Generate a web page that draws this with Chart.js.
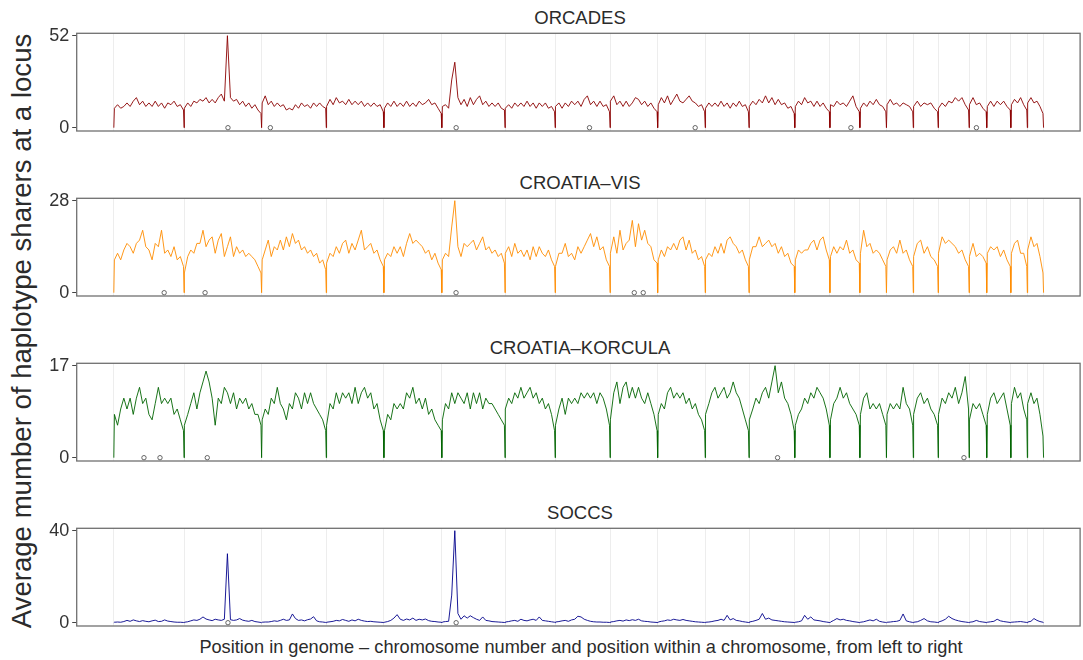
<!DOCTYPE html>
<html>
<head>
<meta charset="utf-8">
<script src="https://cdn.jsdelivr.net/npm/chart.js@4.4.1/dist/chart.umd.min.js"></script>
<style>
  body { margin: 0; background: #fff; width: 1083px; height: 660px; position: relative; overflow: hidden;
         font-family: 'Liberation Sans', Arial, sans-serif; color: #2b2b2b; }
  canvas { position: absolute; left: 0; }
  .strip { position: absolute; left: 77px; width: 1006px; text-align: center; font-size: 18.5px; line-height: 20px; }
  #ytitle { position: absolute; left: 22px; top: 331px; transform: translate(-50%, -50%) rotate(-90deg);
            font-size: 27.6px; white-space: nowrap; }
  #xtitle { position: absolute; left: 581px; top: 647px; transform: translate(-50%, -50%);
            font-size: 18.2px; white-space: nowrap; }
</style>
</head>
<body>
<div id="ytitle">Average mumber of haplotype sharers at a locus</div>
<div id="xtitle">Position in genome – chromosome number and position within a chromosome, from left to right</div>
<script>
// chromosome boundaries along the genome axis (22 chromosomes)
const chromEdges = [0, 70.6, 148.5, 213.5, 271.4, 329.6, 393.1, 443.5, 498.7, 546.5, 594.3, 638.3,
  684.3, 719.6, 749.7, 776.4, 803.4, 828.4, 859.5, 877.2, 901.4, 918, 934.3]

const panelNames = ['ORCADES', 'CROATIA–VIS', 'CROATIA–KORCULA', 'SOCCS']
const panelMax = [52, 28, 17, 40]

// average sharers, sampled along each chromosome
const orcades = [
  [11,13,11,12,14,12,15,17,13,15,12,14,12,15,12,14,11,14,13,15,12,13,10],
  [11,14,12,15,14,16,15,17,14,16,14,17,19,15,52,17,15,16,13,15,12,14,11,13,10,8],
  [14,18,13,15,12,14,12,13,10,11,10,13,11,14,12,13,11,14,12,14,12,11],
  [12,16,13,17,14,15,13,16,13,15,13,15,12,14,12,14,12,13,9],
  [11,14,12,15,12,14,12,15,12,14,12,15,13,14,16,13,14,11,8],
  [12,13,11,27,37,17,13,16,12,17,13,16,18,13,15,12,14,12,14,11,10],
  [11,13,11,14,12,14,12,15,12,14,11,14,12,14,11,12,9],
  [12,14,11,14,12,15,13,15,12,16,18,13,15,12,15,12,13,9],
  [15,18,13,15,12,15,12,14,17,16,13,15,12,14,11,9],
  [13,17,14,18,13,16,19,15,14,16,18,15,14,12,13,9],
  [11,14,12,14,12,15,12,14,11,14,12,15,12,13,9],
  [12,15,13,16,14,18,14,17,13,16,13,14,11,12,8],
  [12,15,13,17,14,15,12,15,12,14,11,9],
  [13,12,15,13,14,12,15,18,12,9],
  [11,14,12,15,13,16,13,12,9],
  [13,16,13,14,12,14,13,12,9],
  [12,15,12,14,13,14,11,9],
  [11,14,12,15,14,17,15,17,13,10],
  [13,17,13,14,11,9],
  [12,15,12,15,13,15,12,10],
  [13,16,14,17,13,10],
  [14,17,14,15,12,8]
]

const croatiaVis = [
  [10,12,10,13,15,14,12,15,16,19,14,13,10,15,14,19,12,13,11,14,10,11,8],
  [6,11,13,12,15,15,19,14,16,17,12,16,18,11,14,17,11,14,12,13,11,12,11,10,8,6],
  [10,13,16,11,14,13,16,13,17,14,18,15,16,13,14,12,13,11,12,9,10,7],
  [9,12,11,14,12,15,16,12,15,13,16,19,13,14,15,12,13,10,8],
  [10,12,11,14,12,14,11,15,18,15,16,15,14,12,13,10,12,9,7],
  [10,12,11,20,28,14,11,15,14,15,16,13,15,17,13,14,12,13,11,12,9],
  [12,14,11,15,12,13,11,13,10,14,11,14,12,11,13,10,8],
  [8,12,12,15,11,12,10,14,12,14,16,18,14,17,13,14,10,8],
  [12,17,12,19,13,15,16,22,14,21,16,19,15,14,10,9],
  [10,13,11,14,13,15,13,16,17,13,16,12,13,10,11,8],
  [10,12,11,14,12,15,12,16,17,15,14,12,13,10,8],
  [10,14,14,17,14,15,16,14,15,12,14,11,12,9,8],
  [10,13,12,13,13,15,16,13,16,17,13,10],
  [11,14,12,14,13,16,12,13,10,9],
  [12,19,14,15,12,13,12,10,8],
  [10,13,14,12,16,12,13,10,8],
  [11,15,16,12,14,11,10,8],
  [12,17,15,16,15,14,12,13,10,8],
  [11,15,11,12,11,9],
  [12,14,13,14,11,13,10,8],
  [12,15,16,12,12,8],
  [13,17,14,15,11,6]
]

const croatiaKorcula = [
  [8,6,9,11,9,11,8,11,13,10,11,8,7,10,13,10,11,10,11,8,9,7,5],
  [6,8,10,12,9,12,14,16,14,11,6,11,10,13,12,10,12,9,11,10,11,9,10,8,8,6],
  [7,9,8,11,10,13,10,9,7,10,9,12,11,9,12,10,12,10,9,8,7,5],
  [6,10,9,12,10,12,11,12,10,13,10,12,13,11,12,9,10,7,5],
  [5,8,7,10,9,10,9,12,11,13,10,11,9,11,8,9,7,6,5],
  [7,10,9,12,10,12,11,10,12,9,12,10,12,9,11,10,10,9,8,7,6],
  [9,11,10,12,11,13,11,12,13,11,12,10,11,9,10,8,5],
  [6,9,11,8,11,10,11,10,12,11,12,11,12,10,12,11,9,6],
  [7,12,14,10,13,14,11,13,11,13,11,10,12,10,8,5],
  [8,10,9,12,13,11,12,11,12,10,11,9,10,8,7,5],
  [8,10,12,13,11,12,13,11,12,14,12,11,9,7,5],
  [7,9,11,10,12,13,11,14,17,12,14,11,10,8,5],
  [6,8,9,11,10,12,11,13,12,11,9,6],
  [7,10,11,13,11,12,10,9,8,6],
  [8,11,12,9,10,9,10,8,6],
  [8,10,9,10,9,13,10,9,6],
  [8,11,12,10,11,9,8,6],
  [8,11,10,12,11,13,10,12,15,9],
  [7,10,9,10,8,6],
  [8,11,12,10,11,12,9,6],
  [10,13,11,12,9,7],
  [10,12,10,11,8,4]
]

const soccs = [
  [0.2,0.3,0.2,0.5,1,0.6,1.2,0.8,0.5,0.9,0.6,0.4,0.8,1.1,0.5,0.6,1.2,0.7,0.5,0.3,0.2,0.2,0.1],
  [0.2,0.4,0.8,1.2,1,1.5,2.5,1.6,1.2,0.9,1.5,1.2,1,1.5,30,1.3,1,1.2,1.8,1.1,0.8,0.6,1,0.5,0.3,0.1],
  [0.2,0.3,0.3,0.5,0.8,0.6,1,1.5,1,1.2,3.8,1.8,1,1.2,0.8,1.3,1.6,2.6,0.8,0.4,0.3,0.1],
  [0.2,0.4,0.6,1,0.8,1.4,1,0.6,1.2,0.8,1.5,1,0.7,0.5,0.6,0.4,0.3,0.2,0.1],
  [0.2,0.5,1,2,3.5,1.5,1,1.6,1.2,2,1,1.5,1.2,1.6,0.9,0.6,0.5,0.3,0.2],
  [0.3,0.5,0.6,12,40,4,1.5,3,2,3,2.2,1.5,1,2.5,1,0.8,0.5,0.4,0.3,0.2,0.1],
  [0.3,0.5,0.8,1,0.6,1.5,1,0.8,1.2,1.5,1,2.5,1,0.8,0.6,0.4,0.2],
  [0.3,0.5,0.8,1,0.6,1.2,1.5,2.8,2.5,1.5,1,0.6,0.4,0.3,0.3,0.2,0.2,0.1],
  [0.3,0.5,0.8,1,0.7,1.2,0.9,1.3,1,1.5,0.8,0.6,0.5,0.3,0.2,0.1],
  [0.3,0.6,0.8,1.2,1,1.5,1.2,1,1.4,1,0.8,0.6,0.4,0.3,0.2,0.1],
  [0.2,0.3,0.5,0.8,1,1.5,1,3.2,1.2,1.8,1,0.8,0.5,0.3,0.1],
  [0.3,0.6,1,1.5,4,1.5,2,1.2,1,0.8,0.6,0.4,0.3,0.2,0.1],
  [0.2,0.4,0.8,3.2,1.5,2.5,1.2,1,0.8,0.5,0.3,0.1],
  [0.3,1,1.8,1.2,1.5,1,0.8,0.5,0.3,0.1],
  [0.2,0.4,0.8,1.2,0.8,1.5,0.6,0.3,0.1],
  [0.2,0.3,0.5,0.6,1,3.8,0.8,0.4,0.1],
  [0.2,0.4,1,1.8,0.8,0.4,0.3,0.1],
  [0.3,0.8,1.5,2.8,1.8,1.2,0.8,0.5,0.3,0.1],
  [0.2,0.4,1,0.5,0.3,0.1],
  [0.2,0.4,0.6,1.5,0.8,0.5,0.3,0.1],
  [0.2,0.3,0.4,0.5,0.3,0.1],
  [0.3,0.6,1.8,1,0.5,0.2]
]

// loci marked on the baseline
const orcadesMarks = [114.7, 157.3, 344, 478, 584.2, 740.7, 866.8]
const visMarks = [50.6, 91.7, 343.9, 523, 532]
const korculaMarks = [30.3, 46.4, 93.9, 667, 854.3]
const soccsMarks = [114.7, 344]

const panelSeries = [orcades, croatiaVis, croatiaKorcula, soccs]
const panelMarks = [orcadesMarks, visMarks, korculaMarks, soccsMarks]
const panelColors = ['#8b0000', '#ff8c00', '#006400', '#00008b']

function buildLine(chroms) {
  const pts = []
  chroms.forEach((vals, c) => {
    const a = chromEdges[c]
    const b = chromEdges[c + 1]
    pts.push({ x: a, y: 0 })
    const span = b - a - 1.2
    vals.forEach((v, i) => {
      pts.push({ x: a + 0.6 + span * i / (vals.length - 1), y: v })
    })
    pts.push({ x: b, y: 0 })
  })
  return pts
}

const frame = {
  id: 'frame',
  afterDraw(chart) {
    const { ctx, chartArea: a } = chart
    ctx.save()
    ctx.strokeStyle = '#707070'
    ctx.lineWidth = 1.3
    ctx.strokeRect(a.left, a.top, a.right - a.left + 2, a.bottom - a.top)
    ctx.restore()
  }
}

panelSeries.forEach((series, k) => {
  const top = 165 * k
  const strip = document.createElement('div')
  strip.className = 'strip'
  strip.style.top = (top + 8) + 'px'
  strip.innerText = panelNames[k]
  document.body.appendChild(strip)

  const cv = document.createElement('canvas')
  cv.width = 1083
  cv.height = 165
  cv.style.top = top + 'px'
  document.body.appendChild(cv)

  const maxV = panelMax[k]
  new Chart(cv.getContext('2d'), {
    type: 'scatter',
    data: {
      datasets: [
        {
          data: buildLine(series),
          showLine: true,
          borderColor: panelColors[k],
          borderWidth: 0.9,
          pointRadius: 0,
          tension: 0,
          order: 2
        },
        {
          data: panelMarks[k].map((x) => ({ x, y: 0 })),
          pointRadius: 2.2,
          pointStyle: 'circle',
          borderColor: '#555',
          borderWidth: 0.9,
          backgroundColor: '#fff',
          order: 1
        }
      ]
    },
    options: {
      responsive: false,
      animation: false,
      devicePixelRatio: 1,
      layout: { padding: { top: 33.3, bottom: 34, left: 0, right: 0 } },
      plugins: { legend: { display: false }, tooltip: { enabled: false } },
      scales: {
        x: {
          type: 'linear',
          min: -37.3,
          max: 969,
          afterBuildTicks: (s) => { s.ticks = chromEdges.map((v) => ({ value: v })) },
          afterFit: (s) => { s.height = 0 },
          ticks: { display: false },
          grid: { color: '#ededed', lineWidth: 1, drawTicks: false },
          border: { display: false }
        },
        y: {
          min: -maxV * 0.0359,
          max: maxV * 1.026,
          afterBuildTicks: (s) => { s.ticks = [{ value: 0 }, { value: maxV }] },
          afterFit: (s) => { s.width = 76.7 },
          ticks: { font: { family: 'Liberation Sans', size: 18 }, color: '#333', padding: 3 },
          grid: { drawOnChartArea: false, tickLength: 4.5, tickColor: '#444' },
          border: { display: false }
        }
      }
    },
    plugins: [frame]
  })
})
</script>
</body>
</html>
